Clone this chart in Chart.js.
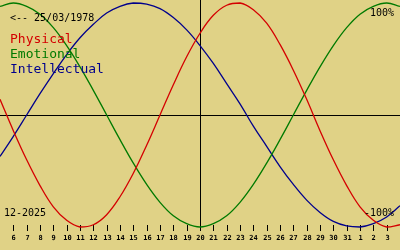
<!DOCTYPE html>
<html>
<head>
<meta charset="utf-8">
<script src="https://cdn.jsdelivr.net/npm/chart.js@4/dist/chart.umd.min.js"></script>
<style>
  html, body { margin: 0; padding: 0; background: rgb(224, 210, 134); }
  #wrap { width: 400px; height: 250px; position: relative; }
</style>
</head>
<body>
<div id="wrap"><canvas id="bioChart"></canvas></div>
<script>
// days shown on the x axis (5 Dec 2025 .. 4 Jan 2026)
const dayLabels = ['5', '6', '7', '8', '9', '10', '11', '12', '13', '14', '15', '16', '17', '18', '19', '20',
    '21', '22', '23', '24', '25', '26', '27', '28', '29', '30', '31', '1', '2', '3', '4'];

const physical = [0.14, -0.14, -0.40, -0.63, -0.82, -0.94, -1.00, -0.98, -0.89, -0.73, -0.52, -0.27, 0.00,
    0.27, 0.52, 0.73, 0.89, 0.98, 1.00, 0.94, 0.82, 0.63, 0.40, 0.14, -0.14, -0.40, -0.63, -0.82, -0.94, -1.00, -0.98];

const emotional = [0.97, 1.00, 0.97, 0.90, 0.78, 0.62, 0.43, 0.22, 0.00, -0.22, -0.43, -0.62, -0.78, -0.90,
    -0.97, -1.00, -0.97, -0.90, -0.78, -0.62, -0.43, -0.22, 0.00, 0.22, 0.43, 0.62, 0.78, 0.90, 0.97, 1.00, 0.97];

const intellectual = [-0.37, -0.19, 0.00, 0.19, 0.37, 0.54, 0.69, 0.81, 0.91, 0.97, 1.00, 0.99, 0.95, 0.87,
    0.76, 0.62, 0.46, 0.28, 0.10, -0.10, -0.28, -0.46, -0.62, -0.76, -0.87, -0.95, -0.99, -1.00, -0.97, -0.91, -0.81];

const todayLabel = '20';
const birthText = '<-- 25/03/1978';
const monthText = '12-2025';

const RED = '#d40000';
const GREEN = '#007a00';
const BLUE = '#00008c';
const MONO = '"DejaVu Sans Mono", "Liberation Mono", monospace';

// axes, tick marks and texts
const bioDecor = {
    id: 'bioDecor',
    beforeDatasetsDraw(chart) {
        const { ctx, chartArea, scales } = chart;
        const xs = scales.x, ys = scales.y;
        ctx.save();
        ctx.strokeStyle = '#000';
        ctx.lineWidth = 1;

        // zero line
        const y0 = Math.round(ys.getPixelForValue(0)) + 0.5;
        ctx.beginPath();
        ctx.moveTo(0, y0);
        ctx.lineTo(chart.width, y0);
        ctx.stroke();

        // today line
        const xt = Math.round(xs.getPixelForValue(dayLabels.indexOf(todayLabel))) + 0.5;
        ctx.beginPath();
        ctx.moveTo(xt, 0);
        ctx.lineTo(xt, chartArea.bottom + 4);
        ctx.stroke();

        // tick marks + day labels
        ctx.font = 'bold 7px ' + MONO;
        ctx.fillStyle = '#000';
        ctx.textAlign = 'center';
        ctx.textBaseline = 'alphabetic';
        for (let i = 1; i < dayLabels.length - 1; i++) {
            const x = Math.round(xs.getPixelForValue(i)) + 0.5;
            ctx.beginPath();
            ctx.moveTo(x, chartArea.bottom - 2);
            ctx.lineTo(x, chartArea.bottom + 4);
            ctx.stroke();
            ctx.fillText(dayLabels[i], x, chartArea.bottom + 13);
        }
        ctx.restore();
    },
    afterDatasetsDraw(chart) {
        const { ctx } = chart;
        ctx.save();
        ctx.textBaseline = 'alphabetic';

        ctx.font = '10px ' + MONO;
        ctx.fillStyle = '#000';
        ctx.textAlign = 'left';
        ctx.fillText(birthText, 10, 21);
        ctx.fillText(monthText, 4, 216);
        ctx.textAlign = 'right';
        ctx.fillText('100%', 394, 16);
        ctx.fillText('-100%', 394, 216);

        // legend
        ctx.font = '13px ' + MONO;
        ctx.textAlign = 'left';
        chart.data.datasets.forEach((ds, i) => {
            ctx.fillStyle = ds.borderColor;
            ctx.fillText(ds.label, 10, 43 + i * 15);
        });
        ctx.restore();
    }
};

new Chart(document.getElementById('bioChart'), {
    type: 'line',
    data: {
        labels: dayLabels,
        datasets: [
            { label: 'Physical', data: physical, borderColor: RED },
            { label: 'Emotional', data: emotional, borderColor: GREEN },
            { label: 'Intellectual', data: intellectual, borderColor: BLUE }
        ]
    },
    options: {
        responsive: true,
        maintainAspectRatio: false,
        animation: false,
        layout: { padding: { top: 3, bottom: 23, left: 0, right: 0 } },
        elements: {
            line: { borderWidth: 1.3, tension: 0.4, fill: false },
            point: { radius: 0, hoverRadius: 0 }
        },
        datasets: { line: { clip: 6 } },
        plugins: {
            legend: { display: false },
            tooltip: { enabled: false },
            title: { display: false }
        },
        scales: {
            x: { display: false, offset: false },
            y: { display: false, min: -1, max: 1 }
        },
        events: []
    },
    plugins: [bioDecor]
});
</script>
</body>
</html>
